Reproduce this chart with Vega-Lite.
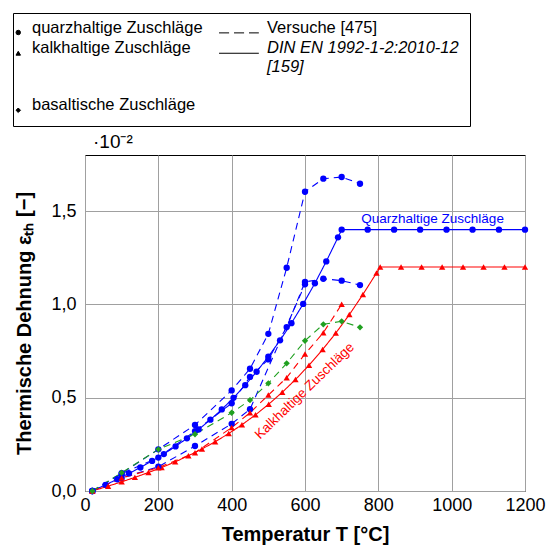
{
  "$schema": "https://vega.github.io/schema/vega-lite/v6.json",
  "padding": {"left": 12, "top": 12, "right": 4, "bottom": 2},
  "autosize": {"type": "pad"},
  "width": 440,
  "height": 336,
  "config": {
    "font": "Liberation Sans",
    "view": {"stroke": "black", "strokeWidth": 1},
    "axis": {"labelColor": "black", "titleColor": "black", "labelFont": "Liberation Sans", "titleFont": "Liberation Sans"}
  },
  "data": {"values": [
      {"series": "QD", "material": "quarz", "source": "DIN", "T": 20, "eps": 0.0},
      {"series": "QD", "material": "quarz", "source": "DIN", "T": 56, "eps": 0.033},
      {"series": "QD", "material": "quarz", "source": "DIN", "T": 88, "eps": 0.063},
      {"series": "QD", "material": "quarz", "source": "DIN", "T": 120, "eps": 0.094},
      {"series": "QD", "material": "quarz", "source": "DIN", "T": 151, "eps": 0.126},
      {"series": "QD", "material": "quarz", "source": "DIN", "T": 183, "eps": 0.161},
      {"series": "QD", "material": "quarz", "source": "DIN", "T": 215, "eps": 0.198},
      {"series": "QD", "material": "quarz", "source": "DIN", "T": 247, "eps": 0.239},
      {"series": "QD", "material": "quarz", "source": "DIN", "T": 278, "eps": 0.282},
      {"series": "QD", "material": "quarz", "source": "DIN", "T": 310, "eps": 0.33},
      {"series": "QD", "material": "quarz", "source": "DIN", "T": 342, "eps": 0.382},
      {"series": "QD", "material": "quarz", "source": "DIN", "T": 373, "eps": 0.437},
      {"series": "QD", "material": "quarz", "source": "DIN", "T": 405, "eps": 0.499},
      {"series": "QD", "material": "quarz", "source": "DIN", "T": 437, "eps": 0.567},
      {"series": "QD", "material": "quarz", "source": "DIN", "T": 468, "eps": 0.639},
      {"series": "QD", "material": "quarz", "source": "DIN", "T": 500, "eps": 0.72},
      {"series": "QD", "material": "quarz", "source": "DIN", "T": 532, "eps": 0.807},
      {"series": "QD", "material": "quarz", "source": "DIN", "T": 563, "eps": 0.899},
      {"series": "QD", "material": "quarz", "source": "DIN", "T": 595, "eps": 1.002},
      {"series": "QD", "material": "quarz", "source": "DIN", "T": 627, "eps": 1.113},
      {"series": "QD", "material": "quarz", "source": "DIN", "T": 658, "eps": 1.23},
      {"series": "QD", "material": "quarz", "source": "DIN", "T": 690, "eps": 1.359},
      {"series": "QD", "material": "quarz", "source": "DIN", "T": 700, "eps": 1.4},
      {"series": "QD", "material": "quarz", "source": "DIN", "T": 771, "eps": 1.4},
      {"series": "QD", "material": "quarz", "source": "DIN", "T": 843, "eps": 1.4},
      {"series": "QD", "material": "quarz", "source": "DIN", "T": 914, "eps": 1.4},
      {"series": "QD", "material": "quarz", "source": "DIN", "T": 986, "eps": 1.4},
      {"series": "QD", "material": "quarz", "source": "DIN", "T": 1057, "eps": 1.4},
      {"series": "QD", "material": "quarz", "source": "DIN", "T": 1129, "eps": 1.4},
      {"series": "QD", "material": "quarz", "source": "DIN", "T": 1200, "eps": 1.4},
      {"series": "KD", "material": "kalk", "source": "DIN", "T": 20, "eps": 0.0},
      {"series": "KD", "material": "kalk", "source": "DIN", "T": 63, "eps": 0.026},
      {"series": "KD", "material": "kalk", "source": "DIN", "T": 100, "eps": 0.049},
      {"series": "KD", "material": "kalk", "source": "DIN", "T": 136, "eps": 0.073},
      {"series": "KD", "material": "kalk", "source": "DIN", "T": 173, "eps": 0.099},
      {"series": "KD", "material": "kalk", "source": "DIN", "T": 209, "eps": 0.126},
      {"series": "KD", "material": "kalk", "source": "DIN", "T": 246, "eps": 0.156},
      {"series": "KD", "material": "kalk", "source": "DIN", "T": 282, "eps": 0.189},
      {"series": "KD", "material": "kalk", "source": "DIN", "T": 319, "eps": 0.225},
      {"series": "KD", "material": "kalk", "source": "DIN", "T": 355, "eps": 0.264},
      {"series": "KD", "material": "kalk", "source": "DIN", "T": 392, "eps": 0.308},
      {"series": "KD", "material": "kalk", "source": "DIN", "T": 428, "eps": 0.355},
      {"series": "KD", "material": "kalk", "source": "DIN", "T": 465, "eps": 0.408},
      {"series": "KD", "material": "kalk", "source": "DIN", "T": 501, "eps": 0.465},
      {"series": "KD", "material": "kalk", "source": "DIN", "T": 538, "eps": 0.529},
      {"series": "KD", "material": "kalk", "source": "DIN", "T": 574, "eps": 0.597},
      {"series": "KD", "material": "kalk", "source": "DIN", "T": 611, "eps": 0.674},
      {"series": "KD", "material": "kalk", "source": "DIN", "T": 648, "eps": 0.758},
      {"series": "KD", "material": "kalk", "source": "DIN", "T": 684, "eps": 0.846},
      {"series": "KD", "material": "kalk", "source": "DIN", "T": 721, "eps": 0.945},
      {"series": "KD", "material": "kalk", "source": "DIN", "T": 758, "eps": 1.053},
      {"series": "KD", "material": "kalk", "source": "DIN", "T": 795, "eps": 1.168},
      {"series": "KD", "material": "kalk", "source": "DIN", "T": 805, "eps": 1.2},
      {"series": "KD", "material": "kalk", "source": "DIN", "T": 862, "eps": 1.2},
      {"series": "KD", "material": "kalk", "source": "DIN", "T": 918, "eps": 1.2},
      {"series": "KD", "material": "kalk", "source": "DIN", "T": 974, "eps": 1.2},
      {"series": "KD", "material": "kalk", "source": "DIN", "T": 1031, "eps": 1.2},
      {"series": "KD", "material": "kalk", "source": "DIN", "T": 1087, "eps": 1.2},
      {"series": "KD", "material": "kalk", "source": "DIN", "T": 1144, "eps": 1.2},
      {"series": "KD", "material": "kalk", "source": "DIN", "T": 1200, "eps": 1.2},
      {"series": "QA", "material": "quarz", "source": "V", "T": 20, "eps": 0.0},
      {"series": "QA", "material": "quarz", "source": "V", "T": 100, "eps": 0.095},
      {"series": "QA", "material": "quarz", "source": "V", "T": 200, "eps": 0.223},
      {"series": "QA", "material": "quarz", "source": "V", "T": 300, "eps": 0.354},
      {"series": "QA", "material": "quarz", "source": "V", "T": 400, "eps": 0.539},
      {"series": "QA", "material": "quarz", "source": "V", "T": 450, "eps": 0.655},
      {"series": "QA", "material": "quarz", "source": "V", "T": 500, "eps": 0.842},
      {"series": "QA", "material": "quarz", "source": "V", "T": 550, "eps": 1.196},
      {"series": "QA", "material": "quarz", "source": "V", "T": 600, "eps": 1.603},
      {"series": "QA", "material": "quarz", "source": "V", "T": 650, "eps": 1.673},
      {"series": "QA", "material": "quarz", "source": "V", "T": 700, "eps": 1.682},
      {"series": "QA", "material": "quarz", "source": "V", "T": 750, "eps": 1.646},
      {"series": "QB", "material": "quarz", "source": "V", "T": 20, "eps": 0.0},
      {"series": "QB", "material": "quarz", "source": "V", "T": 100, "eps": 0.093},
      {"series": "QB", "material": "quarz", "source": "V", "T": 200, "eps": 0.179},
      {"series": "QB", "material": "quarz", "source": "V", "T": 300, "eps": 0.321},
      {"series": "QB", "material": "quarz", "source": "V", "T": 400, "eps": 0.47},
      {"series": "QB", "material": "quarz", "source": "V", "T": 450, "eps": 0.611},
      {"series": "QB", "material": "quarz", "source": "V", "T": 500, "eps": 0.705},
      {"series": "QB", "material": "quarz", "source": "V", "T": 550, "eps": 0.878},
      {"series": "QB", "material": "quarz", "source": "V", "T": 600, "eps": 1.12},
      {"series": "QB", "material": "quarz", "source": "V", "T": 650, "eps": 1.137},
      {"series": "QB", "material": "quarz", "source": "V", "T": 700, "eps": 1.127},
      {"series": "QB", "material": "quarz", "source": "V", "T": 750, "eps": 1.103},
      {"series": "QC", "material": "quarz", "source": "V", "T": 20, "eps": 0.0},
      {"series": "QC", "material": "quarz", "source": "V", "T": 100, "eps": 0.07},
      {"series": "QC", "material": "quarz", "source": "V", "T": 200, "eps": 0.13},
      {"series": "QC", "material": "quarz", "source": "V", "T": 300, "eps": 0.241},
      {"series": "QC", "material": "quarz", "source": "V", "T": 400, "eps": 0.36},
      {"series": "QC", "material": "quarz", "source": "V", "T": 450, "eps": 0.438},
      {"series": "QC", "material": "quarz", "source": "V", "T": 600, "eps": 1.107},
      {"series": "KV", "material": "kalk", "source": "V", "T": 20, "eps": 0.0},
      {"series": "KV", "material": "kalk", "source": "V", "T": 100, "eps": 0.07},
      {"series": "KV", "material": "kalk", "source": "V", "T": 200, "eps": 0.125},
      {"series": "KV", "material": "kalk", "source": "V", "T": 300, "eps": 0.205},
      {"series": "KV", "material": "kalk", "source": "V", "T": 400, "eps": 0.34},
      {"series": "KV", "material": "kalk", "source": "V", "T": 450, "eps": 0.419},
      {"series": "KV", "material": "kalk", "source": "V", "T": 500, "eps": 0.514},
      {"series": "KV", "material": "kalk", "source": "V", "T": 550, "eps": 0.607},
      {"series": "KV", "material": "kalk", "source": "V", "T": 600, "eps": 0.734},
      {"series": "KV", "material": "kalk", "source": "V", "T": 650, "eps": 0.848},
      {"series": "KV", "material": "kalk", "source": "V", "T": 700, "eps": 1.0},
      {"series": "BV", "material": "basalt", "source": "V", "T": 20, "eps": 0.0},
      {"series": "BV", "material": "basalt", "source": "V", "T": 100, "eps": 0.098},
      {"series": "BV", "material": "basalt", "source": "V", "T": 200, "eps": 0.223},
      {"series": "BV", "material": "basalt", "source": "V", "T": 300, "eps": 0.304},
      {"series": "BV", "material": "basalt", "source": "V", "T": 400, "eps": 0.419},
      {"series": "BV", "material": "basalt", "source": "V", "T": 450, "eps": 0.487},
      {"series": "BV", "material": "basalt", "source": "V", "T": 500, "eps": 0.577},
      {"series": "BV", "material": "basalt", "source": "V", "T": 550, "eps": 0.684},
      {"series": "BV", "material": "basalt", "source": "V", "T": 600, "eps": 0.805},
      {"series": "BV", "material": "basalt", "source": "V", "T": 650, "eps": 0.893},
      {"series": "BV", "material": "basalt", "source": "V", "T": 700, "eps": 0.909},
      {"series": "BV", "material": "basalt", "source": "V", "T": 750, "eps": 0.877}
  ]},
  "encoding": {
    "x": {"field": "T", "type": "quantitative", "scale": {"domain": [0, 1200], "nice": false},
      "axis": {"values": [0, 200, 400, 600, 800, 1000, 1200], "format": "d", "title": "Temperatur T [°C]", "labelFontSize": 18, "titleFontSize": 20, "titleFontWeight": "bold", "grid": true, "gridColor": "#a0a0a0", "ticks": false, "domain": false, "labelPadding": 5, "titlePadding": 10, "labelFlush": false}},
    "y": {"field": "eps", "type": "quantitative", "scale": {"domain": [0, 1.8], "nice": false},
      "axis": {"values": [0, 0.5, 1, 1.5], "labelExpr": "replace(format(datum.value, '.1f'), '.', ',')", "title": "Thermische Dehnung εₜₕ [−]", "labelFontSize": 18, "titleFontSize": 20, "titleFontWeight": "bold", "grid": true, "gridColor": "#a0a0a0", "ticks": false, "domain": false, "labelPadding": 9, "titlePadding": 16}},
    "color": {"field": "series", "type": "nominal", "scale": {"domain": ["QD", "QA", "QB", "QC", "KD", "KV", "BV"], "range": ["#0000ff", "#0000ff", "#0000ff", "#0000ff", "#ff0000", "#ff0000", "#20a020"]}, "legend": null}
  },
  "layer": [
    {
      "mark": {"type": "line", "strokeWidth": 1.1},
      "encoding": {
        "strokeDash": {"field": "source", "type": "nominal", "scale": {"domain": ["V", "DIN"], "range": [[7, 5], [1, 0]]}, "legend": null}
      }
    },
    {
      "mark": {"type": "point", "filled": true, "opacity": 1, "size": 40},
      "encoding": {
        "shape": {"field": "material", "type": "nominal",
          "scale": {"domain": ["quarz", "kalk", "basalt", "V", "DIN"], "range": ["circle", "triangle-up", "diamond", "M-15.3,0H-10.8M-8.6,0H-4.1M-1.9,0H2.5", "M-15.3,0H2.5"]},
          "legend": {
            "orient": "none", "legendX": -72, "legendY": -142,
            "columns": 2, "columnPadding": 14, "rowPadding": 3,
            "padding": 11, "strokeColor": "black",
            "title": null,
            "symbolSize": 20, "symbolFillColor": "black", "symbolStrokeColor": "black", "symbolStrokeWidth": 1, "symbolOffset": -14,
            "labelFont": "Liberation Sans", "labelColor": "black", "labelFontSize": 16.5, "labelBaseline": "alphabetic", "labelLimit": 400, "labelOffset": 5.5,
            "labelExpr": "datum.value == 'quarz' ? 'quarzhaltige Zuschläge' : datum.value == 'V' ? 'Versuche [475]' : datum.value == 'kalk' ? ['kalkhaltige Zuschläge', ' ', ' '] : datum.value == 'DIN' ? ['DIN EN 1992-1-2:2010-12', '[159]', ' '] : 'basaltische Zuschläge'",
            "labelFontStyle": {"expr": "datum.value == 'DIN' ? 'italic' : 'normal'"}
          }
        }
      }
    },
    {
      "data": {"values": [{"label": "·10⁻²", "T": 0, "eps": 1.8}]},
      "mark": {"type": "text", "fontSize": 19, "color": "black", "align": "left", "baseline": "bottom", "dx": 8, "dy": -3},
      "encoding": {"text": {"field": "label"}, "color": null}
    },
    {
      "data": {"values": [{"label": "Quarzhaltige Zuschläge", "T": 948, "eps": 1.457}]},
      "mark": {"type": "text", "fontSize": 13.5, "color": "#0000ff"},
      "encoding": {"text": {"field": "label"}, "color": null}
    },
    {
      "data": {"values": [{"label": "Kalkhaltige Zuschläge", "T": 599, "eps": 0.536}]},
      "mark": {"type": "text", "fontSize": 13.5, "color": "#ff0000", "angle": 316},
      "encoding": {"text": {"field": "label"}, "color": null}
    }
  ]
}
